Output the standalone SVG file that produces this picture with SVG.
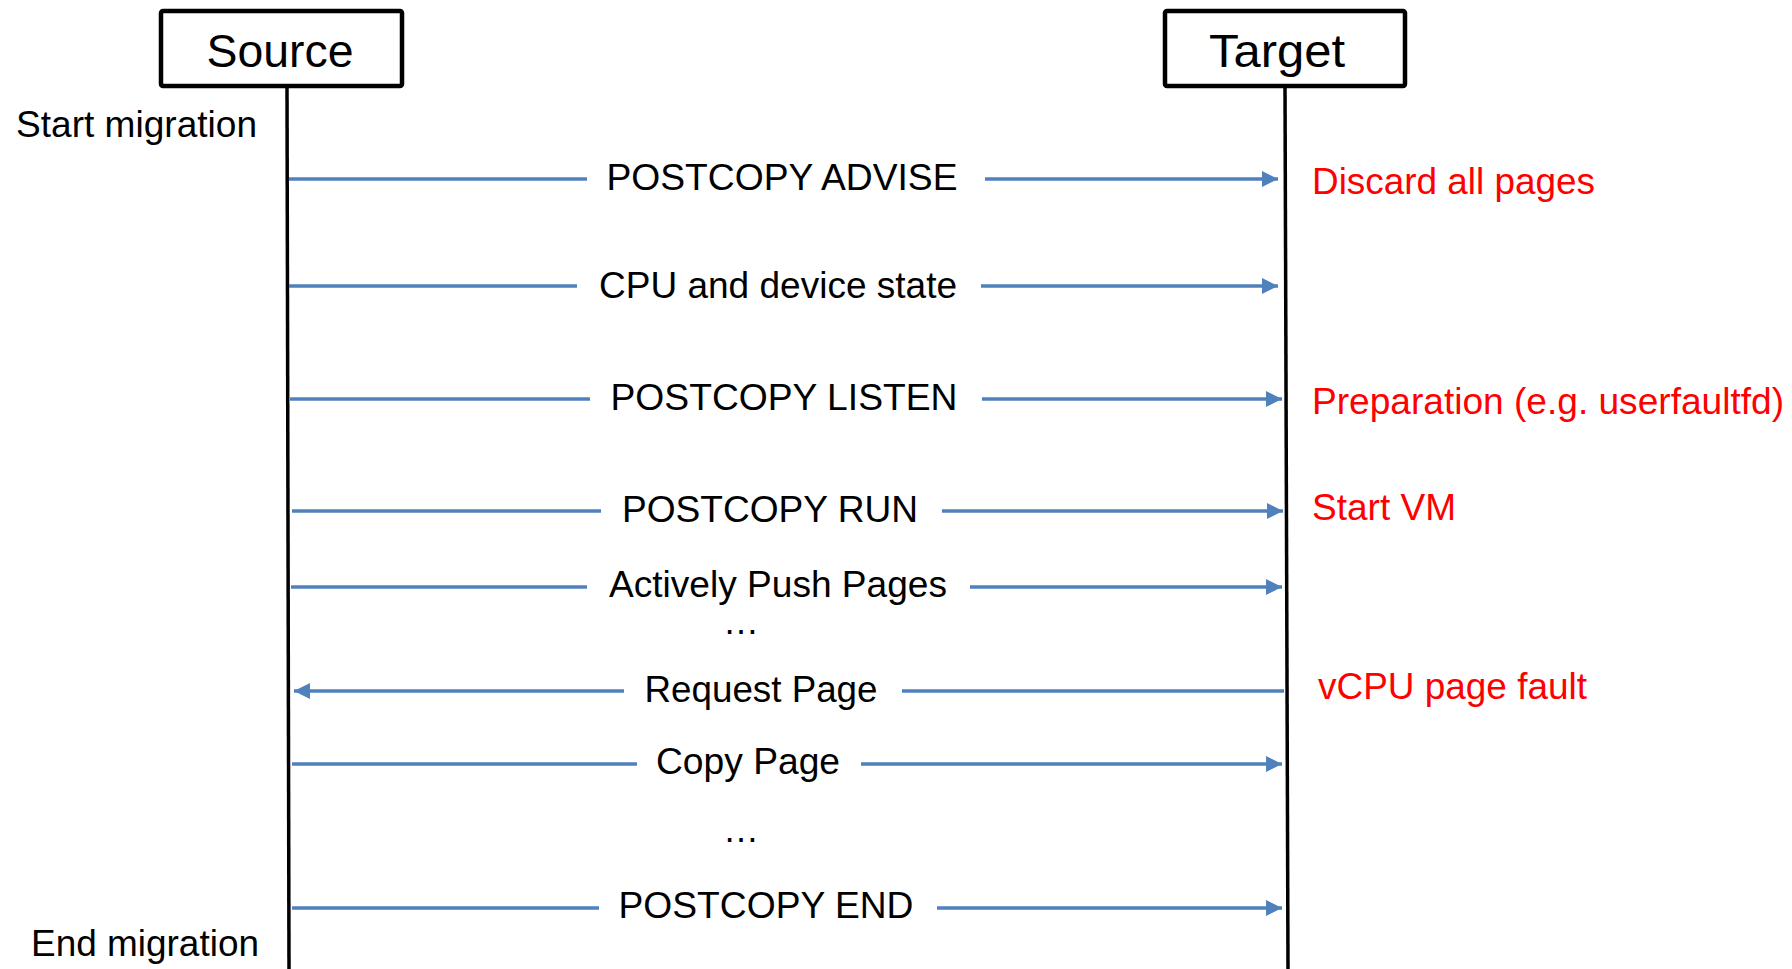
<svg xmlns="http://www.w3.org/2000/svg" width="1792" height="969" viewBox="0 0 1792 969">
  <style>
    .box { fill: #ffffff; stroke: #000000; stroke-width: 4.5; }
    .life { stroke: #000000; stroke-width: 3.5; fill: none; }
    .msg { stroke: #4F81BD; stroke-width: 3.5; fill: none; }
    .title { font-family: "Liberation Sans", Arial, sans-serif; font-size: 47px; fill: #000000; text-anchor: middle; }
    .lbl { font-family: "Liberation Sans", Arial, sans-serif; font-size: 36px; fill: #000000; text-anchor: middle; }
    .side { font-family: "Liberation Sans", Arial, sans-serif; font-size: 36px; fill: #000000; }
    .note { font-family: "Liberation Sans", Arial, sans-serif; font-size: 36px; fill: #FF0000; }
  </style>
  <defs>
    <marker id="head" viewBox="0 0 16 16" refX="16" refY="8" markerWidth="16" markerHeight="16" markerUnits="userSpaceOnUse" orient="auto">
      <path d="M0,0 L16,8 L0,16 Z" fill="#4F81BD"/>
    </marker>
  </defs>

  <!-- participants -->
  <g id="source">
    <rect class="box" x="161" y="11" width="241" height="75" rx="2"/>
    <text class="title" x="280" y="67" textLength="147" lengthAdjust="spacingAndGlyphs">Source</text>
    <line class="life" x1="287" y1="86" x2="289" y2="969"/>
  </g>
  <g id="target">
    <rect class="box" x="1165" y="11" width="240" height="75" rx="2"/>
    <text class="title" x="1277" y="67" textLength="136" lengthAdjust="spacingAndGlyphs">Target</text>
    <line class="life" x1="1285" y1="86" x2="1288" y2="969"/>
  </g>

  <!-- side labels -->
  <g id="start-migration"><text class="side" x="16" y="137" textLength="241" lengthAdjust="spacingAndGlyphs">Start migration</text></g>
  <g id="end-migration"><text class="side" x="31" y="956" textLength="228" lengthAdjust="spacingAndGlyphs">End migration</text></g>

  <!-- target-side notes -->
  <g id="note-discard"><text class="note" x="1312" y="194" textLength="283" lengthAdjust="spacingAndGlyphs">Discard all pages</text></g>
  <g id="note-prep"><text class="note" x="1312" y="414" textLength="472" lengthAdjust="spacingAndGlyphs">Preparation (e.g. userfaultfd)</text></g>
  <g id="note-startvm"><text class="note" x="1312" y="520" textLength="144" lengthAdjust="spacingAndGlyphs">Start VM</text></g>
  <g id="note-fault"><text class="note" x="1318" y="699" textLength="269" lengthAdjust="spacingAndGlyphs">vCPU page fault</text></g>

  <!-- messages -->
  <g id="connectors">
    <line class="msg" x1="289" y1="179" x2="587" y2="179"/>
    <line class="msg" x1="985" y1="179" x2="1278" y2="179" marker-end="url(#head)"/>

    <line class="msg" x1="289" y1="286" x2="577" y2="286"/>
    <line class="msg" x1="981" y1="286" x2="1278" y2="286" marker-end="url(#head)"/>

    <line class="msg" x1="290" y1="399" x2="590" y2="399"/>
    <line class="msg" x1="982" y1="399" x2="1282" y2="399" marker-end="url(#head)"/>

    <line class="msg" x1="292" y1="511" x2="601" y2="511"/>
    <line class="msg" x1="942" y1="511" x2="1283" y2="511" marker-end="url(#head)"/>

    <line class="msg" x1="291" y1="587" x2="587" y2="587"/>
    <line class="msg" x1="970" y1="587" x2="1282" y2="587" marker-end="url(#head)"/>

    <line class="msg" x1="624" y1="691" x2="294" y2="691" marker-end="url(#head)"/>
    <line class="msg" x1="902" y1="691" x2="1284" y2="691"/>

    <line class="msg" x1="292" y1="764" x2="637" y2="764"/>
    <line class="msg" x1="861" y1="764" x2="1282" y2="764" marker-end="url(#head)"/>

    <line class="msg" x1="292" y1="908" x2="599" y2="908"/>
    <line class="msg" x1="937" y1="908" x2="1282" y2="908" marker-end="url(#head)"/>
  </g>

  <!-- message labels -->
  <g id="msg-advise"><text class="lbl" x="782" y="190" textLength="351" lengthAdjust="spacingAndGlyphs">POSTCOPY ADVISE</text></g>
  <g id="msg-state"><text class="lbl" x="778" y="298" textLength="358" lengthAdjust="spacingAndGlyphs">CPU and device state</text></g>
  <g id="msg-listen"><text class="lbl" x="784" y="410" textLength="347" lengthAdjust="spacingAndGlyphs">POSTCOPY LISTEN</text></g>
  <g id="msg-run"><text class="lbl" x="770" y="522" textLength="296" lengthAdjust="spacingAndGlyphs">POSTCOPY RUN</text></g>
  <g id="msg-push"><text class="lbl" x="778" y="597" textLength="338" lengthAdjust="spacingAndGlyphs">Actively Push Pages</text></g>
  <g id="gap-1"><text class="lbl" x="741" y="634">…</text></g>
  <g id="msg-request"><text class="lbl" x="761" y="702" textLength="233" lengthAdjust="spacingAndGlyphs">Request Page</text></g>
  <g id="msg-copy"><text class="lbl" x="748" y="774" textLength="184" lengthAdjust="spacingAndGlyphs">Copy Page</text></g>
  <g id="gap-2"><text class="lbl" x="741" y="842">…</text></g>
  <g id="msg-end"><text class="lbl" x="766" y="918" textLength="295" lengthAdjust="spacingAndGlyphs">POSTCOPY END</text></g>
</svg>
